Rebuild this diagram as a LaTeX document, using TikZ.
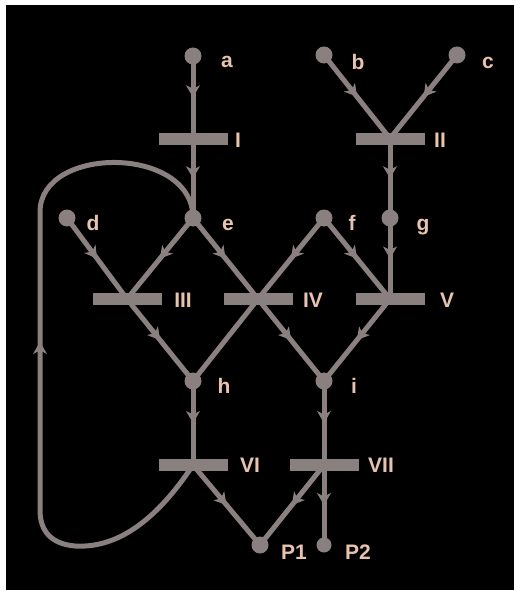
\documentclass[tikz,border=0pt]{standalone}
\usepackage{fontspec}
\setmainfont{Liberation Sans}
\usetikzlibrary{arrows.meta,decorations.markings}
\definecolor{linegray}{RGB}{138,128,128}
\definecolor{labelpeach}{RGB}{232,196,174}
\begin{document}
\begin{tikzpicture}[x=1pt,y=-1pt,
  place/.style={circle,fill=linegray,minimum size=17pt,inner sep=0pt},
  tbar/.style={rectangle,fill=linegray,minimum width=69pt,minimum height=12pt,inner sep=0pt},
  lbl/.style={text=labelpeach,font=\fontsize{21}{25}\selectfont\bfseries,inner sep=0pt},
  plainline/.style={draw=linegray,line width=5pt},
  arrowat/.style={color=linegray,postaction={decorate},
    decoration={markings,mark=at position #1 with {\arrow{Stealth[length=12pt,width=14pt,inset=3.5pt,line width=1pt]}}}},
  flow/.style={plainline,arrowat=0.5},
]
\useasboundingbox (0,0) rectangle (514,591);
\fill[white] (0,0) rectangle (514,591);
\fill[black] (6,5) rectangle (514,590);

% places and transitions
\node[place] (a) at (193,56) {};
\node[place] (b) at (324,55) {};
\node[place] (c) at (457,55) {};
\node[tbar] (I) at (193,138.5) {};
\node[tbar] (II) at (390,138.5) {};
\node[place] (d) at (67,218) {};
\node[place] (e) at (193,218) {};
\node[place] (f) at (324,218) {};
\node[place] (g) at (390,218) {};
\node[tbar] (III) at (127,299) {};
\node[tbar] (IV) at (258,299) {};
\node[tbar] (V) at (390,299) {};
\node[place] (h) at (193,381) {};
\node[place] (i) at (324,381) {};
\node[tbar] (VI) at (193,465) {};
\node[tbar] (VII) at (324,465) {};
\node[place] (P1) at (260,545) {};
\node[place,minimum size=15pt] (P2) at (324,545) {};

% arcs
\path[flow] (a.center) -- (I.center);
\path[flow] (I.center) -- (e.center);
\path[flow] (b.center) -- (II.center);
\path[flow] (c.center) -- (II.center);
\path[flow] (II.center) -- (g.center);
\path[flow] (g.center) -- (V.center);
\path[flow] (d.center) -- (III.center);
\path[flow] (e.center) -- (III.center);
\path[flow] (e.center) -- (IV.center);
\path[flow] (f.center) -- (IV.center);
\path[flow] (f.center) -- (V.center);
\path[flow] (III.center) -- (h.center);
\path[plainline] (IV.center) -- (h.center);
\path[flow] (IV.center) -- (i.center);
\path[flow] (V.center) -- (i.center);
\path[flow] (h.center) -- (VI.center);
\path[flow] (i.center) -- (VII.center);
\path[flow] (VI.center) -- (P1.center);
\path[flow] (VII.center) -- (P1.center);
\path[flow] (VII.center) -- (P2.center);

% feedback loop VI -> e
\coordinate (L1) at (40,510);
\coordinate (L2) at (40,212);
\path[plainline] (VI.center) .. controls (150,530) and (110,548) .. (75,546)
  .. controls (52,544) and (40,532) .. (L1) -- (L2)
  .. controls (40,145) and (193,145) .. (e.center);
\path[arrowat=0.564] (L1) -- (L2);

% labels
\node[lbl] (la) at (227,62) {a};
\node[lbl] (lb) at (358,62) {b};
\node[lbl] (lc) at (488,63) {c};
\node[lbl] (lI) at (238,140) {I};
\node[lbl] (lII) at (440,140) {II};
\node[lbl] (ld) at (93,223) {d};
\node[lbl] (le) at (228,225) {e};
\node[lbl] (lf) at (352,223) {f};
\node[lbl] (lg) at (423,227) {g};
\node[lbl] (lIII) at (183,300) {III};
\node[lbl] (lIV) at (313,300) {IV};
\node[lbl] (lV) at (447,300) {V};
\node[lbl] (lh) at (224,386) {h};
\node[lbl] (li) at (354,386) {i};
\node[lbl] (lVI) at (250,465) {VI};
\node[lbl] (lVII) at (381,465) {VII};
\node[lbl] (lP1) at (294,552) {P1};
\node[lbl] (lP2) at (358,552) {P2};
\end{tikzpicture}
\end{document}
